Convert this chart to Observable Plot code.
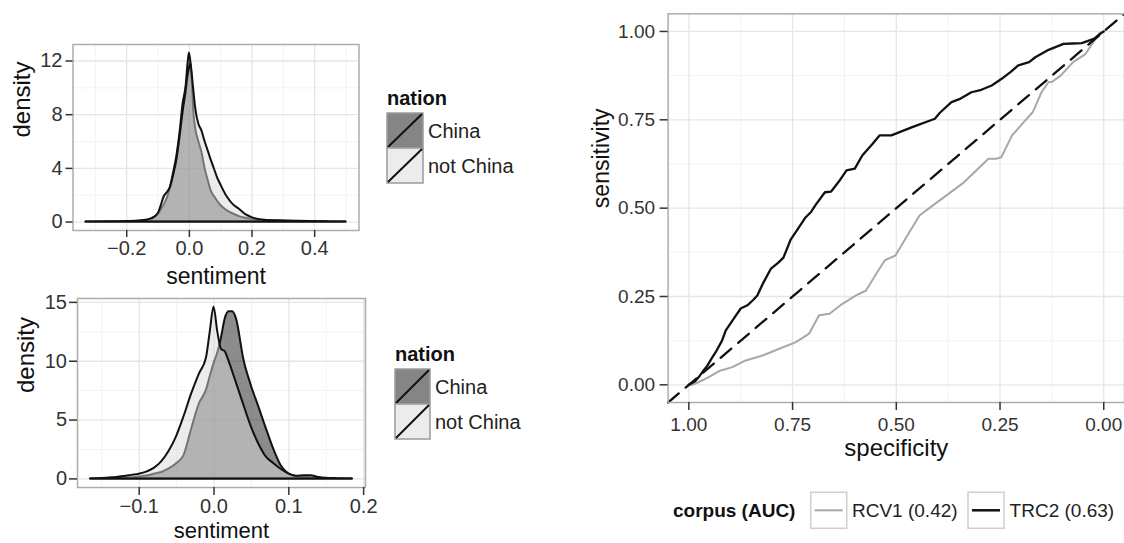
<!DOCTYPE html>
<html><head><meta charset="utf-8">
<script src="https://cdn.jsdelivr.net/npm/d3@7"></script>
<script src="https://cdn.jsdelivr.net/npm/@observablehq/plot@0.6"></script>
<style>
html,body{margin:0;padding:0;background:#fff;}
#wrap{position:relative;width:1124px;height:543px;overflow:hidden;background:#fff;}
</style></head><body><div id="wrap"></div>
<script>
const FONT = '"Liberation Sans", Arial, Helvetica, sans-serif';

// ---------- data ----------
const nations = ["China", "not China"];
const nationKeyFill = ["#858585", "#ececec"];

// top-left density panel
const topX = [-0.33,-0.3,-0.25,-0.2,-0.15,-0.12,-0.1,-0.09,-0.08,-0.07,-0.06,-0.05,-0.04,-0.03,-0.02,-0.01,-0.005,0,0.005,0.01,0.015,0.02,0.03,0.04,0.05,0.06,0.07,0.08,0.09,0.1,0.12,0.14,0.16,0.18,0.2,0.22,0.25,0.3,0.35,0.4,0.45,0.5];
const topChina = [0,0,0.01,0.03,0.08,0.2,0.55,0.9,1.3,1.8,2.6,3.7,4.9,6.6,8.8,10.2,11.6,12.6,11.9,10.2,8.0,7.0,6.0,5.2,4.0,3.1,2.3,1.9,1.55,1.25,0.85,0.6,0.4,0.28,0.2,0.14,0.1,0.06,0.04,0.02,0.01,0];
const topNotChina = [0,0.01,0.02,0.04,0.1,0.25,0.6,1.2,1.9,2.2,2.6,3.5,4.6,6.3,8.2,9.8,10.8,11.4,11.8,10.8,9.6,8.5,7.3,6.8,6.0,5.3,4.6,3.95,3.3,2.8,1.9,1.3,0.95,0.55,0.33,0.2,0.12,0.08,0.05,0.03,0.01,0];
const topXTicks = [-0.2, 0, 0.2, 0.4];
const topYTicks = [0, 4, 8, 12];

// bottom-left density panel
const botX = [-0.165,-0.15,-0.14,-0.13,-0.12,-0.11,-0.1,-0.09,-0.08,-0.07,-0.06,-0.05,-0.04,-0.03,-0.02,-0.01,-0.005,0,0.005,0.01,0.015,0.02,0.025,0.03,0.04,0.05,0.06,0.07,0.08,0.09,0.1,0.11,0.12,0.13,0.14,0.15,0.165,0.185];
const botChina = [0,0,0.01,0.03,0.05,0.09,0.16,0.24,0.4,0.55,0.85,1.28,2.0,4.2,6.3,7.57,8.7,9.8,10.7,12.0,13.6,14.2,14.2,13.6,10.1,7.9,6.1,4.25,2.5,1.1,0.42,0.2,0.14,0.09,0.05,0.02,0,0];
const botNotChina = [0,0.04,0.08,0.12,0.2,0.3,0.4,0.58,0.9,1.45,2.35,3.6,5.3,7.2,8.85,10.3,12.5,14.6,12.5,11.0,10.8,10.0,9.1,8.14,6.25,4.4,2.95,1.85,1.3,0.8,0.42,0.22,0.26,0.27,0.12,0.05,0.02,0];
const botXTicks = [-0.1, 0, 0.1, 0.2];
const botYTicks = [0, 5, 10, 15];

// ROC panel
const corpora = ["RCV1 (0.42)", "TRC2 (0.63)"];
const corpusColor = ["#a8a8a8", "#111111"];
const rcv1Spec = [1.000,0.992,0.976,0.952,0.927,0.895,0.863,0.822,0.782,0.742,0.710,0.686,0.661,0.629,0.597,0.573,0.548,0.528,0.502,0.473,0.444,0.423,0.340,0.278,0.259,0.247,0.221,0.196,0.171,0.150,0.133,0.125,0.104,0.074,0.045,0.028,0.011,0.000];
const rcv1Sens = [0.000,0.000,0.008,0.022,0.039,0.050,0.069,0.083,0.102,0.121,0.145,0.197,0.201,0.230,0.253,0.267,0.315,0.352,0.366,0.423,0.479,0.498,0.570,0.640,0.640,0.644,0.706,0.739,0.772,0.828,0.857,0.857,0.875,0.913,0.935,0.965,0.995,1.000];
const trc2Spec = [1.000,0.985,0.976,0.965,0.955,0.945,0.935,0.920,0.911,0.895,0.875,0.859,0.845,0.835,0.820,0.802,0.785,0.772,0.755,0.738,0.720,0.705,0.694,0.672,0.657,0.638,0.620,0.600,0.582,0.557,0.540,0.512,0.460,0.407,0.395,0.367,0.345,0.319,0.295,0.270,0.246,0.225,0.206,0.180,0.165,0.133,0.097,0.075,0.053,0.024,0.003,0.000];
const trc2Sens = [0.000,0.010,0.022,0.040,0.055,0.075,0.093,0.125,0.154,0.182,0.216,0.225,0.240,0.253,0.290,0.329,0.345,0.360,0.410,0.440,0.472,0.490,0.510,0.545,0.547,0.576,0.607,0.612,0.649,0.682,0.706,0.706,0.730,0.753,0.770,0.800,0.810,0.828,0.835,0.847,0.866,0.885,0.904,0.913,0.927,0.948,0.965,0.966,0.967,0.979,0.998,1.000];
const rocTicks = [0, 0.25, 0.5, 0.75, 1];
const chanceSpec = [1.05, -0.05];

// ---------- helpers ----------
const wrap = document.getElementById("wrap");
function minorTicks(ticks, dom) {
  const s = ticks[1] - ticks[0], lo = d3.min(dom), hi = d3.max(dom), out = [];
  for (let i = -1; i < ticks.length + 1; i++) {
    const v = +(ticks[0] + s * i + s / 2).toFixed(6);
    if (v >= lo && v <= hi) out.push(v);
  }
  return out;
}
function place(svg, left, top) {
  svg.style.position = "absolute";
  svg.style.left = left + "px";
  svg.style.top = top + "px";
  wrap.appendChild(svg);
}
const gridMinor = {stroke: "#f3f3f3", strokeOpacity: 1, strokeWidth: 1};
const gridMajor = {stroke: "#e6e6e6", strokeOpacity: 1, strokeWidth: 1.3};

function densityPanel(o) {
  const rows = (ys, nation) => o.xs.map((x, i) => ({x, y: ys[i], nation}));
  return Plot.plot({
    width: o.width, height: o.height,
    marginLeft: o.ml, marginRight: o.mr, marginTop: o.mt, marginBottom: o.mb,
    style: {fontFamily: FONT, background: "transparent", overflow: "visible"},
    x: {domain: o.xDomain},
    y: {domain: o.yDomain},
    marks: [
      Plot.gridX(minorTicks(o.xTicks, o.xDomain), gridMinor),
      Plot.gridY(minorTicks(o.yTicks, o.yDomain), gridMinor),
      Plot.gridX(o.xTicks, gridMajor),
      Plot.gridY(o.yTicks, gridMajor),
      Plot.areaY(rows(o.china, nations[0]), {x: "x", y: "y", fill: "#1a1a1a", fillOpacity: 0.5, stroke: "#111", strokeWidth: 2, strokeLinejoin: "round", curve: "monotone-x"}),
      Plot.areaY(rows(o.notChina, nations[1]), {x: "x", y: "y", fill: "#d9d9d9", fillOpacity: 0.5, stroke: "#111", strokeWidth: 2, strokeLinejoin: "round", curve: "monotone-x"}),
      Plot.frame({stroke: "#adadad", strokeWidth: 1.5}),
      Plot.axisX(o.xTicks, {tickFormat: d3.format(".1f"), tickSize: o.xTickSize, tickPadding: o.xPad, fontSize: 20, color: "#333", strokeWidth: 1.5, label: null}),
      Plot.axisY(o.yTicks, {tickFormat: d3.format("d"), tickSize: o.yTickSize, tickPadding: o.yPad, fontSize: 20, color: "#333", strokeWidth: 1.5, label: null}),
      Plot.text(["sentiment"], {text: d => d, frameAnchor: "bottom", dy: o.xLabelDy, lineAnchor: "bottom", fontSize: o.xLabelSize, fill: "#111"}),
      Plot.text(["density"], {text: d => d, frameAnchor: "left", rotate: -90, dx: o.yLabelDx, lineAnchor: "top", fontSize: 24, fill: "#111"})
    ]
  });
}

// ---------- top-left ----------
place(densityPanel({
  xs: topX, china: topChina, notChina: topNotChina,
  xDomain: [-0.3715, 0.5415], yDomain: [-0.63, 13.23],
  xTicks: topXTicks, yTicks: topYTicks,
  width: 380, height: 290, ml: 72.5, mr: 21.5, mt: 44, mb: 60,
  xTickSize: 7, xPad: 3, yTickSize: 7, yPad: 3.5,
  xLabelDy: 53, xLabelSize: 23, yLabelDx: -60.5
}), 0, 0);

// ---------- bottom-left ----------
place(densityPanel({
  xs: botX, china: botChina, notChina: botNotChina,
  xDomain: [-0.1825, 0.2025], yDomain: [-0.73, 15.33],
  xTicks: botXTicks, yTicks: botYTicks,
  width: 380, height: 253, ml: 77, mr: 15, mt: 8, mb: 56,
  xTickSize: 8, xPad: 3, yTickSize: 8, yPad: 2.5,
  xLabelDy: 50, xLabelSize: 22, yLabelDx: -61
}), 0, 290);

// ---------- ROC ----------
const rocRows = [
  ...rcv1Spec.map((s, i) => ({spec: s, sens: rcv1Sens[i], corpus: corpora[0]})),
  ...trc2Spec.map((s, i) => ({spec: s, sens: trc2Sens[i], corpus: corpora[1]}))
];
const rocDom = [1.05, -0.05];
place(Plot.plot({
  width: 544, height: 470,
  marginLeft: 87.6, marginRight: 0, marginTop: 13.3, marginBottom: 68,
  style: {fontFamily: FONT, background: "transparent", overflow: "visible"},
  x: {domain: rocDom},
  y: {domain: [-0.05, 1.05]},
  color: {domain: corpora, range: corpusColor},
  marks: [
    Plot.gridX(minorTicks(rocTicks, rocDom), gridMinor),
    Plot.gridY(minorTicks(rocTicks, rocDom), gridMinor),
    Plot.gridX(rocTicks, gridMajor),
    Plot.gridY(rocTicks, gridMajor),
    Plot.line(rocRows.filter(d => d.corpus === corpora[0]), {x: "spec", y: "sens", stroke: "corpus", strokeWidth: 2}),
    Plot.line(rocRows.filter(d => d.corpus === corpora[1]), {x: "spec", y: "sens", stroke: "corpus", strokeWidth: 2.3}),
    Plot.line(chanceSpec, {x: d => d, y: d => 1 - d, stroke: "#111", strokeWidth: 2.3, strokeDasharray: "14,9"}),
    Plot.frame({stroke: "#adadad", strokeWidth: 1.5}),
    Plot.axisX(rocTicks, {tickFormat: d3.format(".2f"), tickSize: 8, tickPadding: 7, fontSize: 19, color: "#333", strokeWidth: 1.5, label: null}),
    Plot.axisY(rocTicks, {tickFormat: d3.format(".2f"), tickSize: 8, tickPadding: 5, fontSize: 19, color: "#333", strokeWidth: 1.5, label: null}),
    Plot.text(["specificity"], {text: d => d, frameAnchor: "bottom", dy: 53, lineAnchor: "bottom", fontSize: 24, fill: "#111"}),
    Plot.text(["sensitivity"], {text: d => d, frameAnchor: "left", rotate: -90, dx: -75.6, lineAnchor: "top", fontSize: 23, fill: "#111"})
  ]
}), 580, 0);

// ---------- legends ----------
const ov = d3.select(wrap).append("svg")
  .attr("width", 1124).attr("height", 543)
  .style("position", "absolute").style("left", "0px").style("top", "0px")
  .style("font-family", FONT);

function nationLegend(x, yTitle, yKey, kw, kh, tx) {
  ov.append("text").attr("x", x).attr("y", yTitle).attr("font-size", 20)
    .attr("font-weight", "bold").attr("fill", "#111").text("nation");
  nations.forEach((n, i) => {
    const y = yKey + i * kh;
    ov.append("rect").attr("x", x).attr("y", y).attr("width", kw).attr("height", kh)
      .attr("fill", nationKeyFill[i]).attr("stroke", "#9a9a9a").attr("stroke-width", 1.5);
    ov.append("line").attr("x1", x + 1).attr("y1", y + kh - 1).attr("x2", x + kw - 1).attr("y2", y + 1)
      .attr("stroke", "#111").attr("stroke-width", 2);
    ov.append("text").attr("x", tx).attr("y", y + kh / 2 + 7).attr("font-size", 20)
      .attr("fill", "#222").text(n);
  });
}
nationLegend(387, 105, 113, 36, 35, 428);
nationLegend(395, 361, 369, 35, 35, 435);

ov.append("text").attr("x", 673).attr("y", 517).attr("font-size", 19)
  .attr("font-weight", "bold").attr("fill", "#111").text("corpus (AUC)");
const keyX = [810.7, 968], labelX = [852, 1009.6];
corpora.forEach((c, i) => {
  ov.append("rect").attr("x", keyX[i]).attr("y", 492.3).attr("width", 36).attr("height", 36)
    .attr("fill", "#fff").attr("stroke", "#cfcfcf").attr("stroke-width", 1.5);
  ov.append("line").attr("x1", keyX[i] + 4).attr("x2", keyX[i] + 32).attr("y1", 510.3).attr("y2", 510.3)
    .attr("stroke", corpusColor[i]).attr("stroke-width", i ? 2.5 : 2);
  ov.append("text").attr("x", labelX[i]).attr("y", 517).attr("font-size", 19)
    .attr("fill", "#222").text(c);
});
</script></body></html>
